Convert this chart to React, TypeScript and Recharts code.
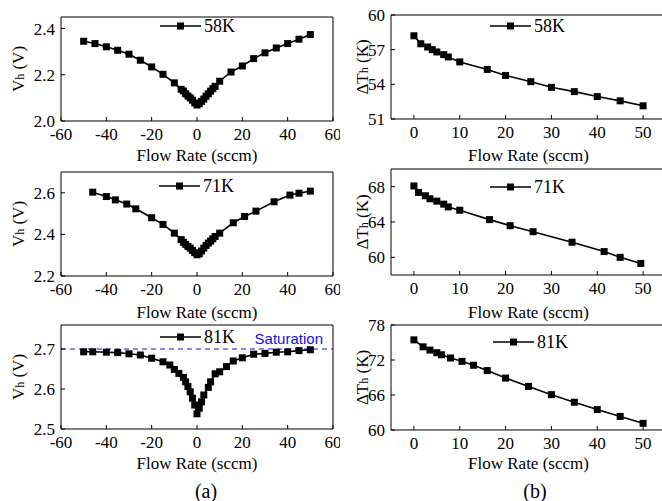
import React from "react";
import {
  LineChart,
  Line,
  XAxis,
  YAxis,
  Legend,
  ReferenceLine,
} from "recharts";

// ---- data ----
const flowA58 = [-50, -45, -40, -35, -30, -25, -20, -15, -10, -7, -6, -5, -4, -3, -2, -1, 0, 1, 2, 3, 4, 5, 6, 7, 8, 10, 15, 20, 25, 30, 35, 40, 45, 50];
const vhA58 = [2.345, 2.335, 2.321, 2.306, 2.289, 2.263, 2.234, 2.202, 2.165, 2.137, 2.13, 2.118, 2.108, 2.1, 2.09, 2.078, 2.069, 2.075, 2.085, 2.095, 2.107, 2.118, 2.129, 2.14, 2.15, 2.172, 2.212, 2.238, 2.27, 2.295, 2.316, 2.335, 2.354, 2.374];

const flowA71 = [-46, -40, -36, -31, -27, -20, -15, -10, -7, -6, -5, -4, -3, -2, -1, 0, 1, 2, 3, 4, 5, 6, 7, 8, 10, 16, 21, 26, 34, 41, 45, 50];
const vhA71 = [2.603, 2.582, 2.566, 2.546, 2.523, 2.48, 2.448, 2.406, 2.375, 2.362, 2.352, 2.342, 2.334, 2.323, 2.312, 2.302, 2.307, 2.32, 2.334, 2.347, 2.358, 2.368, 2.379, 2.39, 2.406, 2.456, 2.486, 2.512, 2.557, 2.589, 2.598, 2.608];

const flowA81 = [-50, -46, -40, -35, -30, -25, -20, -15, -12, -10, -8, -6, -5, -4, -3, -2, -1, 0, 1, 2, 3, 5, 6, 8, 10, 13, 16, 20, 25, 30, 35, 40, 45, 50];
const vhA81 = [2.693, 2.693, 2.692, 2.691, 2.688, 2.685, 2.677, 2.668, 2.66, 2.649, 2.639, 2.629, 2.618, 2.606, 2.593, 2.577, 2.56, 2.538, 2.552, 2.568, 2.585, 2.604, 2.618, 2.638, 2.643, 2.656, 2.67, 2.678, 2.687, 2.689, 2.692, 2.693, 2.696, 2.698];

const flowB58 = [0, 1.5, 3, 4, 5, 6.5, 7.5, 10, 16, 20, 25.5, 30, 35, 40, 45, 50];
const dThB58 = [58.2, 57.51, 57.23, 57.0, 56.8, 56.57, 56.37, 55.94, 55.29, 54.77, 54.23, 53.74, 53.37, 52.94, 52.57, 52.14];

const flowB71 = [0, 1, 2.5, 3.5, 5, 6.5, 7.5, 10, 16.5, 21, 26, 34.5, 41.5, 45, 49.5];
const dThB71 = [68.08, 67.35, 66.97, 66.63, 66.36, 66.02, 65.71, 65.33, 64.27, 63.58, 62.9, 61.71, 60.65, 60.0, 59.31];

const flowB81 = [0, 2, 3.5, 5, 6, 8, 10.5, 13, 16, 20, 25, 30, 35, 40, 45, 50];
const dThB81 = [75.45, 74.26, 73.7, 73.25, 72.9, 72.34, 71.77, 71.1, 70.19, 68.9, 67.47, 66.06, 64.76, 63.51, 62.33, 61.14];

// ticks
const flowTicksA = [-60, -40, -20, 0, 20, 40, 60];
const flowMinorA = [-50, -30, -10, 10, 30, 50];
const flowTicksB = [0, 10, 20, 30, 40, 50];
const flowMinorB = [5, 15, 25, 35, 45];

const SERIF = '"Liberation Serif", "Times New Roman", serif';
const SANS = '"Liberation Sans", Arial, sans-serif';

const toRows = (xs: number[], ys: number[]) => xs.map((x, i) => ({ x, y: ys[i] }));

type PanelCfg = {
  key: string;
  left: number;
  top: number;
  margin: { top: number; right: number; bottom: number; left: number };
  rows: { x: number; y: number }[];
  xDomain: [number, number];
  xTicks: number[];
  xMinor: number[];
  yDomain: [number, number];
  yTicks: number[];
  yMinor: number[];
  yDigits: number;
  yMain: string;
  yUnit: string;
  yTitleX: number;
  xTitleY: number;
  name: string;
  legendX: number;
  legendY: number;
  saturation?: number;
};

const W = 340;
const H = 165;
const THIN = 0.001; // axes need a non-zero size to render
const FS = 17;

const panels: PanelCfg[] = [
  {
    key: "a58", left: 0, top: 0, margin: { top: 17, right: 7, bottom: 44, left: 61 },
    rows: toRows(flowA58, vhA58), xDomain: [-60, 60], xTicks: flowTicksA, xMinor: flowMinorA,
    yDomain: [2.0, 2.45], yTicks: [2.0, 2.2, 2.4], yMinor: [2.1, 2.3], yDigits: 1,
    yMain: "V", yUnit: "(V)", yTitleX: 18, xTitleY: 155, name: "58K", legendX: 160, legendY: 17,
  },
  {
    key: "a71", left: 0, top: 160, margin: { top: 12, right: 7, bottom: 49, left: 61 },
    rows: toRows(flowA71, vhA71), xDomain: [-60, 60], xTicks: flowTicksA, xMinor: flowMinorA,
    yDomain: [2.2, 2.7], yTicks: [2.2, 2.4, 2.6], yMinor: [2.3, 2.5], yDigits: 1,
    yMain: "V", yUnit: "(V)", yTitleX: 18, xTitleY: 152, name: "71K", legendX: 159, legendY: 17,
  },
  {
    key: "a81", left: 0, top: 315, margin: { top: 10, right: 7, bottom: 51, left: 61 },
    rows: toRows(flowA81, vhA81), xDomain: [-60, 60], xTicks: flowTicksA, xMinor: flowMinorA,
    yDomain: [2.5, 2.76], yTicks: [2.5, 2.6, 2.7], yMinor: [2.55, 2.65, 2.75], yDigits: 1,
    yMain: "V", yUnit: "(V)", yTitleX: 18, xTitleY: 148, name: "81K", legendX: 160, legendY: 13,
    saturation: 2.7,
  },
  {
    key: "b58", left: 335, top: 0, margin: { top: 15, right: 9, bottom: 46, left: 56 },
    rows: toRows(flowB58, dThB58), xDomain: [-5, 55], xTicks: flowTicksB, xMinor: flowMinorB,
    yDomain: [51, 60], yTicks: [51, 54, 57, 60], yMinor: [52.5, 55.5, 58.5], yDigits: 0,
    yMain: "\u0394T", yUnit: "(K)", yTitleX: 27, xTitleY: 155, name: "58K", legendX: 155, legendY: 17,
  },
  {
    key: "b71", left: 335, top: 160, margin: { top: 9, right: 9, bottom: 50, left: 56 },
    rows: toRows(flowB71, dThB71), xDomain: [-5, 55], xTicks: flowTicksB, xMinor: flowMinorB,
    yDomain: [58, 70], yTicks: [60, 64, 68], yMinor: [58, 62, 66, 70], yDigits: 0,
    yMain: "\u0394T", yUnit: "(K)", yTitleX: 27, xTitleY: 152, name: "71K", legendX: 155, legendY: 18,
  },
  {
    key: "b81", left: 335, top: 315, margin: { top: 10, right: 9, bottom: 50, left: 56 },
    rows: toRows(flowB81, dThB81), xDomain: [-5, 55], xTicks: flowTicksB, xMinor: flowMinorB,
    yDomain: [60, 78], yTicks: [60, 66, 72, 78], yMinor: [63, 69, 75], yDigits: 0,
    yMain: "\u0394T", yUnit: "(K)", yTitleX: 27, xTitleY: 148, name: "81K", legendX: 158, legendY: 18,
  },
];

const SquareDot = (props: any) => {
  const { cx, cy, index } = props;
  if (cx == null || cy == null) return <g key={index} />;
  return <rect key={index} x={cx - 3.5} y={cy - 3.5} width={7} height={7} fill="#000" />;
};

// serif tick labels drawn by hand so the font sticks
const XTick = (props: any) => {
  const { x, y, payload } = props;
  return (
    <text x={x} y={y} dy="0.71em" textAnchor="middle" fill="#000" fontFamily="Liberation Serif" fontSize={FS}>
      {payload ? payload.value : ""}
    </text>
  );
};

const YTick = (props: any) => {
  const { x, y, payload, digits } = props;
  return (
    <text x={x} y={y} dy="0.35em" textAnchor="end" fill="#000" fontFamily="Liberation Serif" fontSize={FS}>
      {payload ? Number(payload.value).toFixed(digits) : ""}
    </text>
  );
};

const LegendItem = ({ name }: { name: string }) => (
  <div style={{ display: "flex", alignItems: "center", fontFamily: SERIF, fontSize: 18, color: "#000", lineHeight: "18px" }}>
    <svg width={41} height={10}>
      <line x1={0} y1={5} x2={41} y2={5} stroke="#000" strokeWidth={1.6} />
      <rect x={17} y={1.5} width={7} height={7} fill="#000" />
    </svg>
    <span style={{ marginLeft: 3 }}>{name}</span>
  </div>
);

const YTitle = ({ cfg }: { cfg: PanelCfg }) => {
  const cy = cfg.margin.top + (H - cfg.margin.top - cfg.margin.bottom) / 2;
  const x = cfg.yTitleX;
  return (
    <text
      x={x}
      y={cy}
      transform={`rotate(-90 ${x} ${cy})`}
      textAnchor="middle"
      dominantBaseline="central"
      style={{ fontFamily: SERIF, fontSize: 17 }}
      fill="#000"
    >
      {cfg.yMain}
      <tspan style={{ fontSize: 12 }} dy={2}>h</tspan>
      <tspan dy={-2}>{" " + cfg.yUnit}</tspan>
    </text>
  );
};

const XTitle = ({ cfg }: { cfg: PanelCfg }) => {
  const cx = cfg.margin.left + (W - cfg.margin.left - cfg.margin.right) / 2;
  return (
    <text x={cx} y={cfg.xTitleY} textAnchor="middle" dominantBaseline="central" style={{ fontFamily: SERIF, fontSize: 17 }} fill="#000">
      Flow Rate (sccm)
    </text>
  );
};

const SatLabel = (props: any) => {
  const vb = props.viewBox || { x: 61, y: 34, width: 272 };
  return (
    <text x={vb.x + vb.width - 10} y={vb.y - 11} textAnchor="end" dominantBaseline="central" style={{ fontFamily: SANS, fontSize: 15 }} fill="#1010e0">
      Saturation
    </text>
  );
};

const axisStroke = { stroke: "#000", strokeWidth: 1 };

function Panel({ cfg }: { cfg: PanelCfg }) {
  return (
    <div style={{ position: "absolute", left: cfg.left, top: cfg.top, width: W, height: H, fontFamily: SERIF }}>
      <LineChart width={W} height={H} data={cfg.rows} margin={cfg.margin}>
        {/* bottom axis with labels + minor ticks */}
        <XAxis
          xAxisId="b"
          dataKey="x"
          type="number"
          domain={cfg.xDomain}
          ticks={cfg.xTicks}
          interval={0}
          allowDataOverflow
          height={THIN}
          tickSize={-4}
          tickMargin={11}
          tick={<XTick />}
          axisLine={axisStroke}
          tickLine={axisStroke}
          label={<XTitle cfg={cfg} />}
        />
        <XAxis
          xAxisId="bm"
          dataKey="x"
          type="number"
          domain={cfg.xDomain}
          ticks={cfg.xMinor}
          interval={0}
          allowDataOverflow
          height={THIN}
          tickSize={-3}
          tick={false}
          axisLine={false}
          tickLine={axisStroke}
        />
        {/* top frame */}
        <XAxis
          xAxisId="t"
          orientation="top"
          dataKey="x"
          type="number"
          domain={cfg.xDomain}
          ticks={cfg.xTicks}
          interval={0}
          allowDataOverflow
          height={THIN}
          tickSize={-4}
          tick={false}
          axisLine={axisStroke}
          tickLine={axisStroke}
        />
        <XAxis
          xAxisId="tm"
          orientation="top"
          dataKey="x"
          type="number"
          domain={cfg.xDomain}
          ticks={cfg.xMinor}
          interval={0}
          allowDataOverflow
          height={THIN}
          tickSize={-3}
          tick={false}
          axisLine={false}
          tickLine={axisStroke}
        />
        {/* left axis with labels + minor ticks */}
        <YAxis
          yAxisId="l"
          type="number"
          domain={cfg.yDomain}
          ticks={cfg.yTicks}
          interval={0}
          allowDataOverflow
          width={THIN}
          tickSize={-4}
          tickMargin={10}
          tick={<YTick digits={cfg.yDigits} />}
          axisLine={axisStroke}
          tickLine={axisStroke}
          label={<YTitle cfg={cfg} />}
        />
        <YAxis
          yAxisId="lm"
          type="number"
          domain={cfg.yDomain}
          ticks={cfg.yMinor}
          interval={0}
          allowDataOverflow
          width={THIN}
          tickSize={-3}
          tick={false}
          axisLine={false}
          tickLine={axisStroke}
        />
        {/* right frame */}
        <YAxis
          yAxisId="r"
          orientation="right"
          type="number"
          domain={cfg.yDomain}
          ticks={cfg.yTicks}
          interval={0}
          allowDataOverflow
          width={THIN}
          tickSize={-4}
          tick={false}
          axisLine={axisStroke}
          tickLine={axisStroke}
        />
        <YAxis
          yAxisId="rm"
          orientation="right"
          type="number"
          domain={cfg.yDomain}
          ticks={cfg.yMinor}
          interval={0}
          allowDataOverflow
          width={THIN}
          tickSize={-3}
          tick={false}
          axisLine={false}
          tickLine={axisStroke}
        />
        {cfg.saturation != null && (
          <ReferenceLine
            xAxisId="b"
            yAxisId="l"
            y={cfg.saturation}
            stroke="#1010e0"
            strokeWidth={1}
            strokeDasharray="5 4"
            label={<SatLabel />}
          />
        )}
        <Legend
          layout="horizontal"
          verticalAlign="middle"
          align="center"
          content={() => <LegendItem name={cfg.name} />}
          wrapperStyle={{ left: cfg.legendX, top: cfg.legendY, width: "auto", height: "auto" }}
        />
        <Line
          xAxisId="b"
          yAxisId="l"
          dataKey="y"
          name={cfg.name}
          type="linear"
          stroke="#000"
          strokeWidth={1.6}
          dot={<SquareDot />}
          activeDot={false}
          isAnimationActive={false}
        />
      </LineChart>
    </div>
  );
}

export default function App() {
  return (
    <div style={{ position: "absolute", left: 0, top: 0, width: 662, height: 501, overflow: "hidden", background: "#fff", fontFamily: SERIF }}>
      {panels.map((p) => (
        <Panel key={p.key} cfg={p} />
      ))}
      <div style={{ position: "absolute", left: 186, top: 480, width: 40, textAlign: "center", fontFamily: SERIF, fontSize: 20 }}>(a)</div>
      <div style={{ position: "absolute", left: 515, top: 480, width: 40, textAlign: "center", fontFamily: SERIF, fontSize: 20 }}>(b)</div>
    </div>
  );
}
